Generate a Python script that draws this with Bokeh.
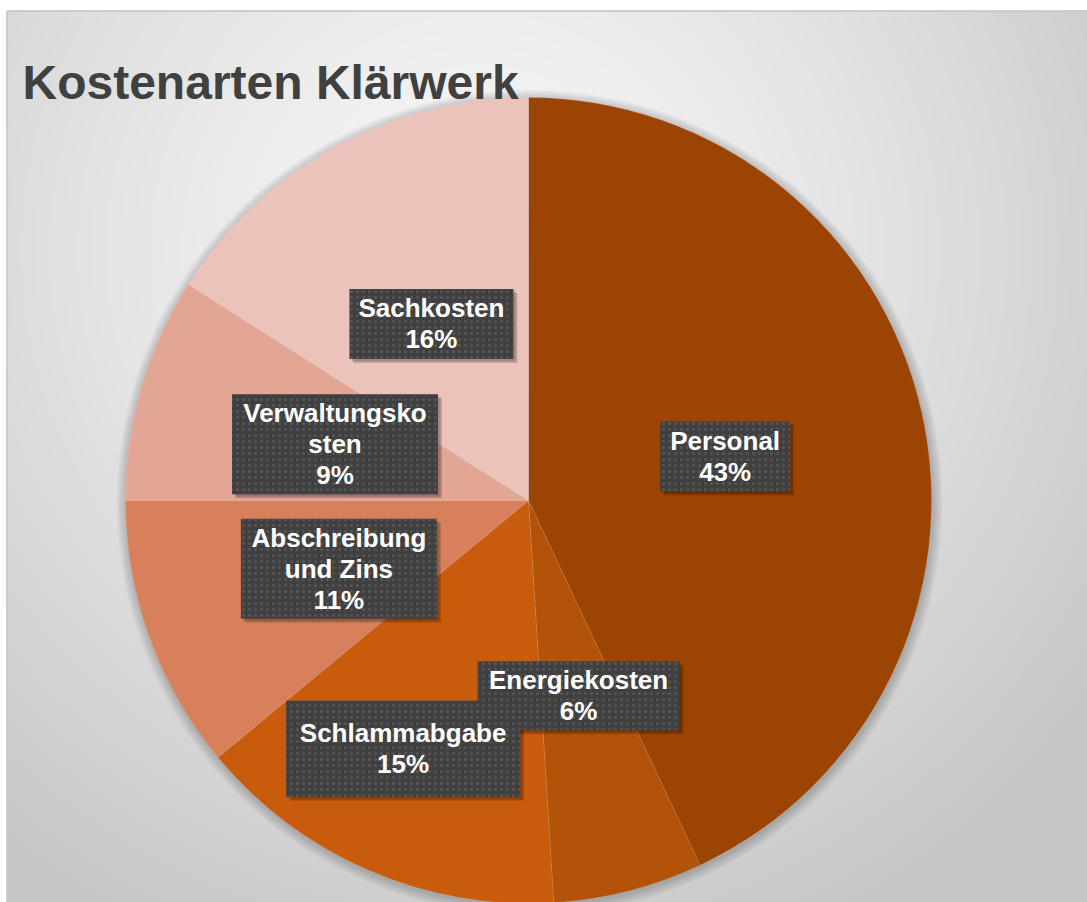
import math
import numpy as np
from bokeh.plotting import figure
from bokeh.models import Range1d
from bokeh.core.properties import value
from bokeh.embed import file_html
from bokeh.resources import INLINE

# ---------------- data ----------------
title_text = "Kostenarten Klärwerk"
categories = ["Personal", "Energiekosten", "Schlammabgabe",
              "Abschreibung und Zins", "Verwaltungskosten", "Sachkosten"]
shares = [43, 6, 15, 11, 9, 16]
label_lines = [["Personal"], ["Energiekosten"], ["Schlammabgabe"],
               ["Abschreibung", "und Zins"], ["Verwaltungsko", "sten"], ["Sachkosten"]]

# ---------------- style ----------------
colors = ["#9C4404", "#B3530A", "#C95B0C", "#D8805C", "#E3A594", "#EBC3BA"]
box_w = [130, 202, 234, 196, 206, 164]
box_h = [70, 69, 96, 100, 100, 70]
lab_r = [0.5, 0.5, 0.69, 0.5, 0.5, 0.5]
lab_da = [0, 0, 3.4, 0, 0, 0]
FONT = "Liberation Sans"
LINE_STEP = 31

W, H = 1087, 902
X0, Y_BOTTOM = 0, 902          # screen x of left edge / screen y of bottom edge


def sy(y_screen):
    return Y_BOTTOM - y_screen


p = figure(width=W, height=H, x_range=Range1d(X0, X0 + W), y_range=Range1d(0, H),
           output_backend="svg", toolbar_location=None, min_border=0)
p.axis.visible = False
p.grid.visible = False
p.outline_line_color = None
p.background_fill_color = "white"
p.border_fill_color = "white"

# ---------------- background gradient ----------------
nx, ny = 272, 223
top_screen = 11
left_screen = 7
dw = X0 + W - left_screen
dh = Y_BOTTOM - top_screen
xs = left_screen + (np.arange(nx) + 0.5) * dw / nx
ys = Y_BOTTOM - (np.arange(ny) + 0.5) * dh / ny
XX, YY = np.meshgrid(xs, ys)
d = np.sqrt((XX - 480.0) ** 2 + (YY - 250.0) ** 2)
v = 248.0 - 50.0 * np.clip(d / 760.0, 0, 1) ** 1.3
img = np.empty((ny, nx), dtype=np.uint32)
view = img.view(dtype=np.uint8).reshape((ny, nx, 4))
vv = np.clip(v, 0, 255).astype(np.uint8)
view[:, :, 0] = vv
view[:, :, 1] = vv
view[:, :, 2] = vv
view[:, :, 3] = 255
p.image_rgba(image=[img], x=left_screen, y=0, dw=dw, dh=dh)

# frame lines
p.segment(x0=[left_screen, left_screen - 0.5], y0=[sy(10.5), sy(10.5)],
          x1=[X0 + W, left_screen - 0.5], y1=[sy(10.5), 0],
          line_color="#bfbfbf", line_width=1.5)

# ---------------- pie ----------------
cx, cy, R = 528, sy(500), 403

# soft shadow around the pie
for k in range(1, 11):
    p.circle(x=[cx + 1], y=[cy - 2], radius=R + k, fill_color="black",
             fill_alpha=0.018, line_color=None)

total = float(sum(shares))
cum = 0.0
starts, ends, mids = [], [], []
for s in shares:
    a0 = math.pi / 2 - 2 * math.pi * cum / total
    cum += s
    a1 = math.pi / 2 - 2 * math.pi * cum / total
    starts.append(a0)
    ends.append(a1)
    mids.append((a0 + a1) / 2)

p.wedge(x=[cx] * len(shares), y=[cy] * len(shares), radius=R,
        start_angle=starts, end_angle=ends, direction="clock",
        fill_color=colors, line_color="#ffffff", line_alpha=0.12, line_width=0.8)

# ---------------- labels ----------------
lx, ly = [], []
for i, m in enumerate(mids):
    a = m - math.radians(lab_da[i])
    lx.append(cx + lab_r[i] * R * math.cos(a))
    ly.append(cy + lab_r[i] * R * math.sin(a))

# shadows
p.rect(x=[x + 4 for x in lx], y=[y - 4 for y in ly], width=box_w, height=box_h,
       fill_color="black", fill_alpha=0.16, line_color=None)
p.rect(x=[x + 2.5 for x in lx], y=[y - 2.5 for y in ly], width=box_w, height=box_h,
       fill_color="black", fill_alpha=0.16, line_color=None)
# boxes
p.rect(x=lx, y=ly, width=box_w, height=box_h, fill_color="#404040", line_color=None,
       hatch_pattern="dot", hatch_color="#555555", hatch_scale=6, hatch_weight=1.2)

tx, ty, tt = [], [], []
for i, cat in enumerate(categories):
    lines = label_lines[i] + [f"{shares[i]}%"]
    n = len(lines)
    for j, line in enumerate(lines):
        tx.append(lx[i])
        ty.append(ly[i] - (j - (n - 1) / 2) * LINE_STEP)
        tt.append(line)

p.text(x=tx, y=ty, text=tt, text_font=value(FONT), text_font_style="bold",
       text_font_size="26px", text_color="white", text_align="center",
       text_baseline="middle")

# ---------------- title ----------------
p.text(x=[22], y=[sy(82)], text=[title_text], text_font=value(FONT),
       text_font_style="bold", text_font_size="48px", text_color="#404040",
       text_align="left", text_baseline="alphabetic")

open("out.html", "w").write(file_html(p, INLINE))
